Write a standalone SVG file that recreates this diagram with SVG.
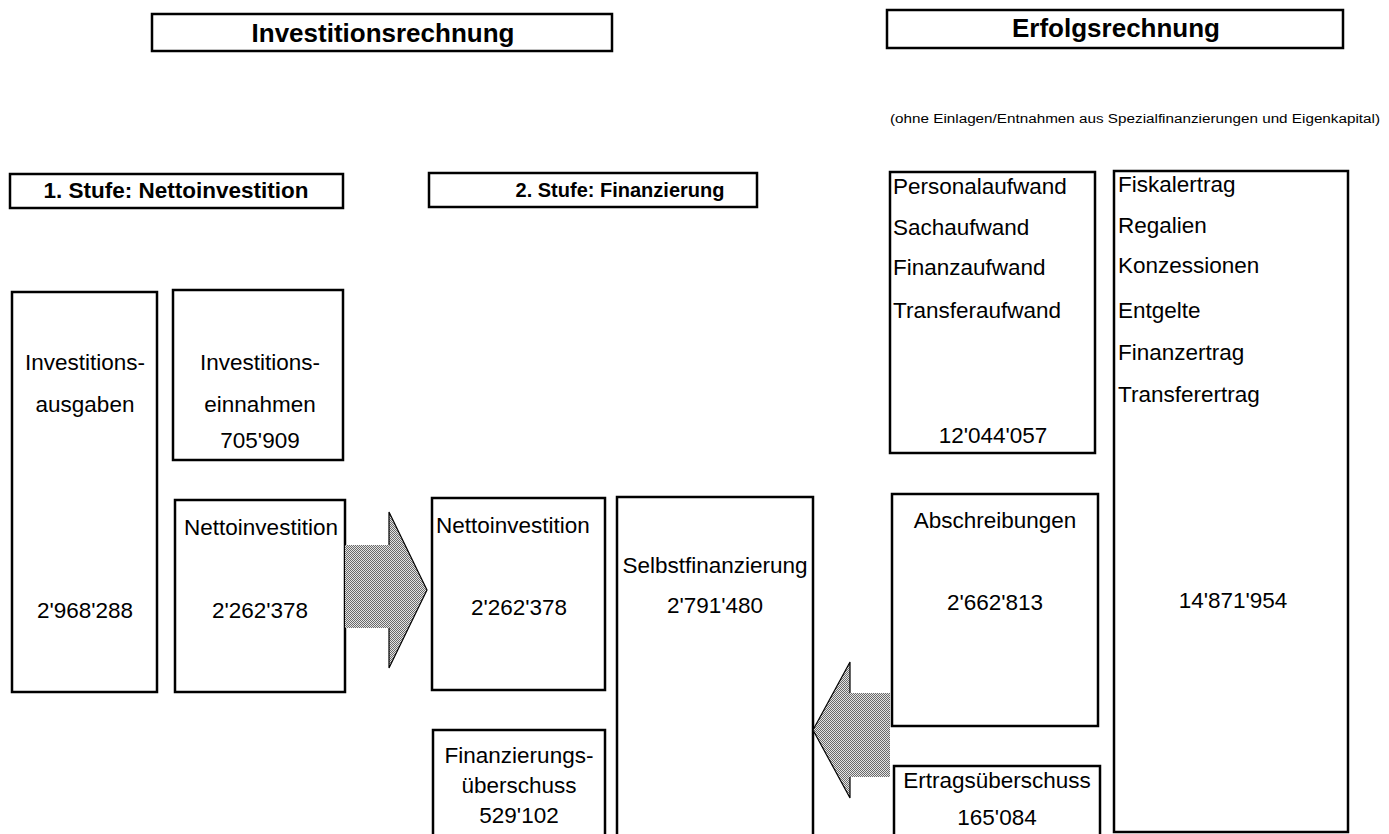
<svg xmlns="http://www.w3.org/2000/svg" width="1389" height="834" viewBox="0 0 1389 834">
<style>
.bx{fill:#fff;stroke:#000;stroke-width:2.5}
.t{font-family:"Liberation Sans",Arial,sans-serif;font-size:22.5px;fill:#000}
.c{text-anchor:middle}
.b{font-weight:bold}
</style>
<defs>
<pattern id="dither" width="2" height="2" patternUnits="userSpaceOnUse">
<rect width="2" height="2" fill="#e4e4e4"/>
<rect x="0" y="0" width="1" height="1" fill="#6a6a6a"/>
<rect x="1" y="1" width="1" height="1" fill="#6a6a6a"/>
</pattern>
</defs>
<rect width="1389" height="834" fill="#fff"/>

<g id="title-investition">
<rect class="bx" x="152" y="14" width="460" height="37"/>
<text class="t b c" x="383" y="42" style="font-size:26px">Investitionsrechnung</text>
</g>
<g id="title-erfolg">
<rect class="bx" x="887" y="10" width="456" height="38"/>
<text class="t b c" x="1116" y="37" style="font-size:26px">Erfolgsrechnung</text>
</g>
<text class="t" x="890" y="123" style="font-size:12px" textLength="490" lengthAdjust="spacingAndGlyphs">(ohne Einlagen/Entnahmen aus Spezialfinanzierungen und Eigenkapital)</text>

<g id="stufe1">
<rect class="bx" x="10" y="174" width="333" height="34"/>
<text class="t b c" x="176" y="198" style="font-size:22.5px">1. Stufe: Nettoinvestition</text>
</g>
<g id="stufe2">
<rect class="bx" x="429" y="173" width="328" height="34"/>
<text class="t b c" x="620" y="197" style="font-size:20px">2. Stufe: Finanzierung</text>
</g>

<g id="investitionsausgaben">
<rect class="bx" x="12" y="292" width="145" height="400"/>
<text class="t c" x="85" y="370">Investitions-</text>
<text class="t c" x="85" y="412">ausgaben</text>
<text class="t c" x="85" y="618">2'968'288</text>
</g>
<g id="investitionseinnahmen">
<rect class="bx" x="173" y="290" width="170" height="170"/>
<text class="t c" x="260" y="370">Investitions-</text>
<text class="t c" x="260" y="412">einnahmen</text>
<text class="t c" x="260" y="448">705'909</text>
</g>
<g id="nettoinvestition1">
<rect class="bx" x="175" y="500" width="170" height="192"/>
<text class="t c" x="261" y="535">Nettoinvestition</text>
<text class="t c" x="260" y="618">2'262'378</text>
</g>
<g id="nettoinvestition2">
<rect class="bx" x="432" y="498" width="173" height="192"/>
<text class="t" x="436" y="533">Nettoinvestition</text>
<text class="t c" x="519" y="615">2'262'378</text>
</g>
<g id="selbstfinanzierung">
<rect class="bx" x="617" y="497" width="196" height="345"/>
<text class="t c" x="715" y="573">Selbstfinanzierung</text>
<text class="t c" x="715" y="613">2'791'480</text>
</g>
<g id="finanzierungsueberschuss">
<rect class="bx" x="433" y="730" width="172" height="112"/>
<text class="t c" x="519" y="763">Finanzierungs-</text>
<text class="t c" x="519" y="793">überschuss</text>
<text class="t c" x="519" y="823">529'102</text>
</g>
<g id="aufwand">
<rect class="bx" x="890" y="172" width="205" height="281"/>
<text class="t" x="893" y="194">Personalaufwand</text>
<text class="t" x="893" y="235">Sachaufwand</text>
<text class="t" x="893" y="275">Finanzaufwand</text>
<text class="t" x="893" y="318">Transferaufwand</text>
<text class="t c" x="993" y="443">12'044'057</text>
</g>
<g id="ertrag">
<rect class="bx" x="1114" y="171" width="234" height="661"/>
<text class="t" x="1118" y="192">Fiskalertrag</text>
<text class="t" x="1118" y="233">Regalien</text>
<text class="t" x="1118" y="273">Konzessionen</text>
<text class="t" x="1118" y="318">Entgelte</text>
<text class="t" x="1118" y="360">Finanzertrag</text>
<text class="t" x="1118" y="402">Transferertrag</text>
<text class="t c" x="1233" y="608">14'871'954</text>
</g>
<g id="abschreibungen">
<rect class="bx" x="892" y="494" width="206" height="232"/>
<text class="t c" x="995" y="528">Abschreibungen</text>
<text class="t c" x="995" y="610">2'662'813</text>
</g>
<g id="ertragsueberschuss">
<rect class="bx" x="894" y="766" width="206" height="80"/>
<text class="t c" x="997" y="788">Ertragsüberschuss</text>
<text class="t c" x="997" y="825">165'084</text>
</g>

<g id="connectors">
<path d="M345,545 L389,545 L389,512 L427,590 L389,668 L389,628 L345,628 Z" fill="url(#dither)"/>
<path d="M389,545 L389,512 L427,590 L389,668 L389,628" fill="none" stroke="#000" stroke-width="1.2"/>
<path d="M890,693 L850,693 L850,662 L813,730 L850,798 L850,777 L890,777 Z" fill="url(#dither)"/>
<path d="M850,693 L850,662 L813,730 L850,798 L850,777" fill="none" stroke="#000" stroke-width="1.2"/>
</g>
</svg>
